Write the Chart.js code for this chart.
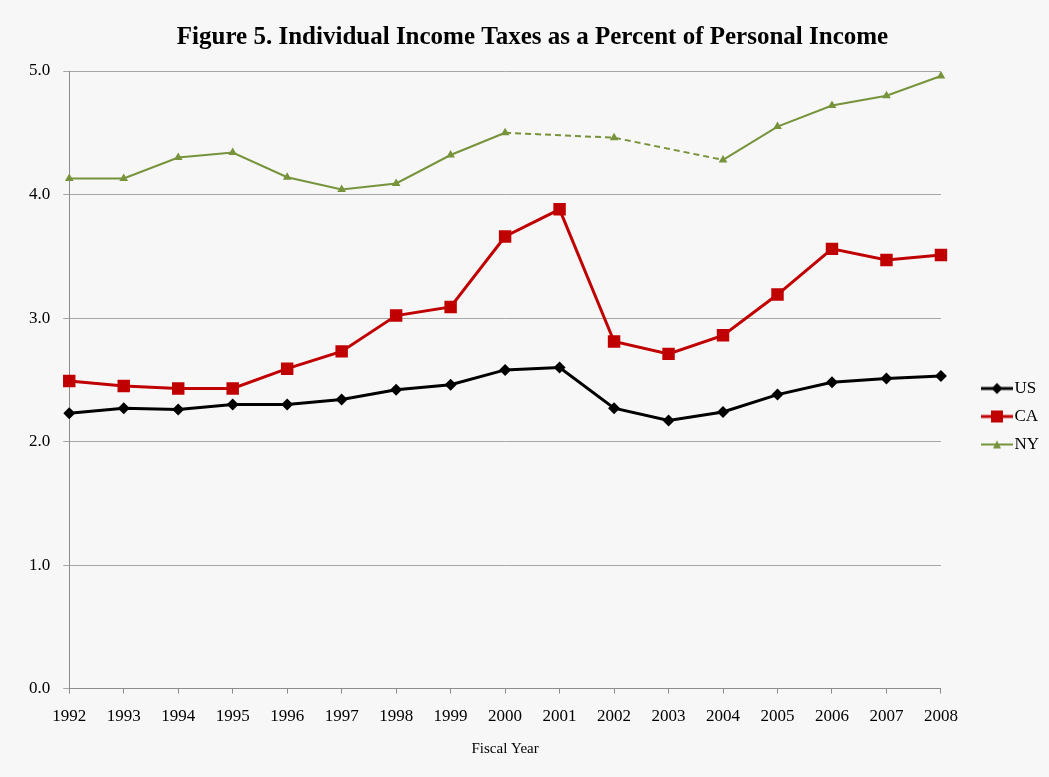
<!DOCTYPE html>
<html>
<head>
<meta charset="utf-8">
<title>Individual Income Taxes as a Percent of Personal Income</title>
<script src="https://cdn.jsdelivr.net/npm/chart.js@4.4.1/dist/chart.umd.min.js"></script>
<style>
  html, body { margin: 0; padding: 0; background: #f7f7f7; }
  #wrap { width: 1049px; height: 777px; position: relative; }
</style>
</head>
<body>
<div id="wrap"><canvas id="taxChart"></canvas></div>
<script>
// Fiscal years on the x axis
const years = ["1992", "1993", "1994", "1995", "1996", "1997", "1998", "1999", "2000",
  "2001", "2002", "2003", "2004", "2005", "2006", "2007", "2008"];

// Income taxes as % of personal income
const usValues = [2.23, 2.27, 2.26, 2.30, 2.30, 2.34, 2.42, 2.46, 2.58,
  2.60, 2.27, 2.17, 2.24, 2.38, 2.48, 2.51, 2.53];
const caValues = [2.49, 2.45, 2.43, 2.43, 2.59, 2.73, 3.02, 3.09, 3.66,
  3.88, 2.81, 2.71, 2.86, 3.19, 3.56, 3.47, 3.51];
// NY has no figure for 2001 and 2003
const nyValues = [4.13, 4.13, 4.30, 4.34, 4.14, 4.04, 4.09, 4.32, 4.50,
  null, 4.46, null, 4.28, 4.55, 4.72, 4.80, 4.96];

const yTicks = [0, 1, 2, 3, 4, 5];

const SERIF = "'Liberation Serif', 'Times New Roman', serif";

// small legend swatch: line with the marker in the middle
function legendSwatch(color, lineWidth, marker, size) {
  const c = document.createElement("canvas");
  c.width = 32;
  c.height = 16;
  const g = c.getContext("2d");
  g.strokeStyle = color;
  g.fillStyle = color;
  g.lineWidth = lineWidth;
  g.beginPath();
  g.moveTo(0, 8);
  g.lineTo(32, 8);
  g.stroke();
  g.beginPath();
  if (marker === "rect") {
    g.rect(16 - size / 2, 8 - size / 2, size, size);
  } else if (marker === "diamond") {
    g.moveTo(16, 8 - size / 2);
    g.lineTo(16 + size / 2, 8);
    g.lineTo(16, 8 + size / 2);
    g.lineTo(16 - size / 2, 8);
  } else {
    g.moveTo(16, 8 - size / 2);
    g.lineTo(16 + size / 2, 8 + size / 2);
    g.lineTo(16 - size / 2, 8 + size / 2);
  }
  g.closePath();
  g.fill();
  return c;
}

const swatches = {
  US: legendSwatch("#000000", 3, "diamond", 11),
  CA: legendSwatch("#c00000", 3, "rect", 12),
  NY: legendSwatch("#77933c", 2, "triangle", 8),
};

const dashedGap = (ctx) => (ctx.p0.skip || ctx.p1.skip ? [6, 4] : undefined);

const datasets = [
  {
    label: "US",
    data: usValues,
    borderColor: "#000000",
    backgroundColor: "#000000",
    borderWidth: 3,
    pointStyle: "rectRot",
    pointRadius: 6,
    pointBorderWidth: 0,
  },
  {
    label: "CA",
    data: caValues,
    borderColor: "#c00000",
    backgroundColor: "#c00000",
    borderWidth: 3,
    pointStyle: "rect",
    pointRadius: 8.8,
    pointBorderWidth: 0,
  },
  {
    label: "NY",
    data: nyValues,
    borderColor: "#77933c",
    backgroundColor: "#77933c",
    borderWidth: 2,
    pointStyle: "triangle",
    pointRadius: 5,
    pointBorderWidth: 0,
    spanGaps: true,
    segment: { borderDash: dashedGap },
  },
];

const config = {
  type: "line",
  data: { labels: years, datasets },
  options: {
    responsive: true,
    maintainAspectRatio: false,
    animation: false,
    layout: { padding: { left: 16, right: 0, top: 15, bottom: 19 } },
    elements: { line: { tension: 0 } },
    plugins: {
      title: {
        display: true,
        text: "Figure 5. Individual Income Taxes as a Percent of Personal Income",
        color: "#000000",
        font: { family: SERIF, size: 25, weight: "bold" },
        padding: { top: 8, bottom: 18 },
      },
      legend: {
        position: "right",
        // empty title only pushes the entries down a little
        title: { display: true, text: "", font: { size: 10 }, padding: { top: 48, bottom: 0 } },
        labels: {
          usePointStyle: true,
          pointStyleWidth: 18,
          color: "#000000",
          font: { family: SERIF, size: 17 },
          padding: 11,
          generateLabels: (chart) =>
            chart.data.datasets.map((ds, i) => ({
              text: ds.label,
              fontColor: "#000000",
              pointStyle: swatches[ds.label],
              fillStyle: ds.backgroundColor,
              strokeStyle: ds.borderColor,
              lineWidth: 0,
              hidden: !chart.isDatasetVisible(i),
              datasetIndex: i,
            })),
        },
      },
      tooltip: { enabled: false },
    },
    scales: {
      x: {
        offset: false,
        grid: {
          drawOnChartArea: false,
          drawTicks: true,
          tickLength: 5,
          color: "#8c8c8c",
        },
        border: { color: "#8c8c8c" },
        ticks: {
          color: "#000000",
          font: { family: SERIF, size: 17 },
          maxRotation: 0,
          autoSkip: false,
          padding: 13,
        },
        title: {
          display: true,
          text: "Fiscal Year",
          color: "#000000",
          font: { family: SERIF, size: 15 },
          padding: { top: 0, bottom: 0 },
        },
      },
      y: {
        min: 0,
        max: 5,
        afterBuildTicks: (axis) => (axis.ticks = yTicks.map((v) => ({ value: v }))),
        grid: { color: "#a6a6a6", tickLength: 6 },
        border: { color: "#8c8c8c" },
        ticks: {
          color: "#000000",
          font: { family: SERIF, size: 17 },
          padding: 13,
          callback: (v) => Number(v).toFixed(1),
        },
      },
      // blank strip between the plot and the legend
      gap: {
        position: "right",
        grid: { display: false },
        border: { display: false },
        ticks: { display: false },
        afterFit: (axis) => {
          axis.width = 36;
        },
      },
    },
  },
};

const canvas = document.getElementById("taxChart");
const taxChart = new Chart(canvas, config);
</script>
</body>
</html>
